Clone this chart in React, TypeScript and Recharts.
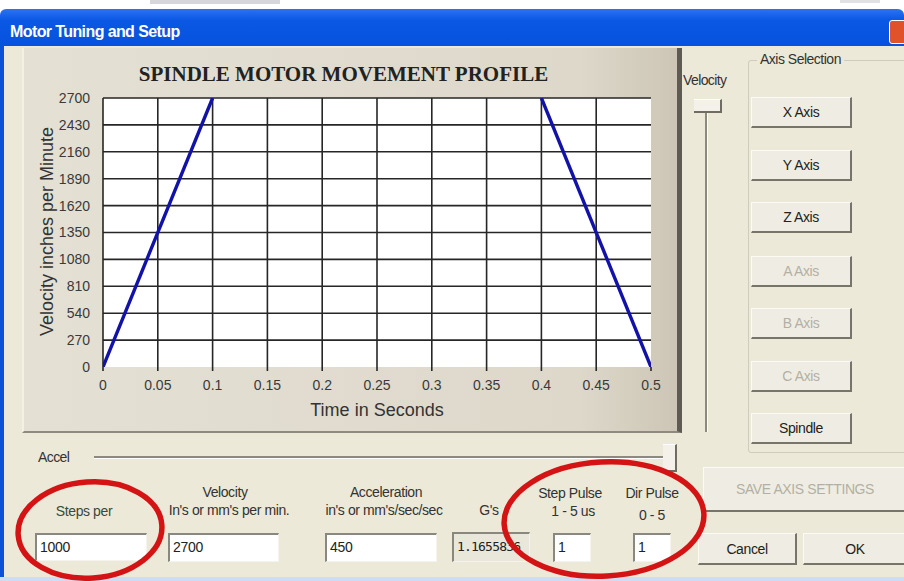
import React from "react";
import { CartesianGrid, Label, Line, LineChart, XAxis, YAxis } from "recharts";

// chart values
const TIME_TICKS = [0, 0.05, 0.1, 0.15, 0.2, 0.25, 0.3, 0.35, 0.4, 0.45, 0.5];
const VELOCITY_TICKS = [0, 270, 540, 810, 1080, 1350, 1620, 1890, 2160, 2430, 2700];
const ACCEL_TIME = [0, 0.1];
const ACCEL_VELOCITY = [0, 2700];
const DECEL_TIME = [0.4, 0.5];
const DECEL_VELOCITY = [2700, 0];

// dialog texts
const AXIS_BUTTONS = ["X Axis", "Y Axis", "Z Axis", "A Axis", "B Axis", "C Axis", "Spindle"];
const AXIS_ENABLED = [true, true, true, false, false, false, true];

const accelData = ACCEL_TIME.map((t, i) => ({ t, v: ACCEL_VELOCITY[i] }));
const decelData = DECEL_TIME.map((t, i) => ({ t, v: DECEL_VELOCITY[i] }));

const UI_FONT = "'Liberation Sans', Arial, sans-serif";
const BG = "#ece9d8";

const abs = (left: number, top: number, width?: number, height?: number): React.CSSProperties => ({
  position: "absolute",
  left,
  top,
  width,
  height,
});

function Button({ x, y, w, h, text, disabled }: { x: number; y: number; w: number; h: number; text: string; disabled?: boolean }) {
  return (
    <div
      style={{
        ...abs(x, y, w, h),
        boxSizing: "border-box",
        background: "#efede3",
        borderTop: "1px solid #fbfaf5",
        borderLeft: "1px solid #fbfaf5",
        borderRight: "2px solid #77756a",
        borderBottom: "2px solid #77756a",
        display: "flex",
        alignItems: "center",
        justifyContent: "center",
        fontSize: 14,
        letterSpacing: -0.4,
        color: disabled ? "#b3b0a3" : "#222",
      }}
    >
      {text}
    </div>
  );
}

function Field({ x, y, w, h, text, grey }: { x: number; y: number; w: number; h: number; text: string; grey?: boolean }) {
  return (
    <div
      style={{
        ...abs(x, y, w, h),
        boxSizing: "border-box",
        background: grey ? "#e9e6da" : "#fff",
        borderTop: "2px solid #8a887e",
        borderLeft: "2px solid #8a887e",
        borderRight: "1px solid #f4f3ee",
        borderBottom: "1px solid #f4f3ee",
        fontSize: grey ? 13 : 14,
        color: "#222",
        paddingLeft: 3,
        lineHeight: `${h - 4}px`,
        overflow: "hidden",
        whiteSpace: "nowrap",
        fontFamily: grey ? "'DejaVu Sans Mono', monospace" : UI_FONT,
        letterSpacing: grey ? -0.8 : -0.3,
      }}
    >
      {text}
    </div>
  );
}

function Caption({ cx, y, text, color = "#333" }: { cx: number; y: number; text: string; color?: string }) {
  return (
    <div style={{ ...abs(cx - 90, y, 180), textAlign: "center", fontSize: 14, letterSpacing: -0.4, color, whiteSpace: "nowrap" }}>
      {text}
    </div>
  );
}

function ProfileChart() {
  return (
    <LineChart width={655} height={384} margin={{ top: 50, right: 26, bottom: 15, left: 0 }}>
      <CartesianGrid
        fill="#fff"
        stroke="#262626"
        strokeWidth={1.6}
        horizontalValues={VELOCITY_TICKS.slice(1)}
        verticalValues={TIME_TICKS.slice(0, -1)}
      />
      <XAxis
        type="number"
        dataKey="t"
        domain={[0, 0.5]}
        ticks={TIME_TICKS}
        allowDataOverflow
        axisLine={false}
        tickLine={{ stroke: "#262626", strokeWidth: 1.6 }}
        tickSize={4}
        tickMargin={9}
        height={50}
        tick={{ fontSize: 14, fill: "#3a3a3a", fontFamily: UI_FONT }}
      >
        <Label value="Time in Seconds" position="insideBottom" offset={1} style={{ fontSize: 18, fill: "#333", fontFamily: UI_FONT }} />
      </XAxis>
      <YAxis
        type="number"
        dataKey="v"
        domain={[0, 2700]}
        ticks={VELOCITY_TICKS}
        allowDataOverflow
        axisLine={false}
        tickLine={false}
        tickMargin={7}
        width={81}
        tick={{ fontSize: 14, fill: "#3a3a3a", fontFamily: UI_FONT }}
      >
        <Label
          content={({ viewBox }: any) => (
            <text
              x={viewBox.x + 25}
              y={viewBox.y + viewBox.height / 2 - 1}
              transform={`rotate(-90, ${viewBox.x + 25}, ${viewBox.y + viewBox.height / 2 - 1})`}
              textAnchor="middle"
              dominantBaseline="central"
              style={{ fontSize: 18, fill: "#333", fontFamily: UI_FONT }}
            >
              Velocity inches per Minute
            </text>
          )}
        />
      </YAxis>
      <Line data={accelData} dataKey="v" stroke="#1212a8" strokeWidth={3.4} dot={false} isAnimationActive={false} />
      <Line data={decelData} dataKey="v" stroke="#1212a8" strokeWidth={3.4} dot={false} isAnimationActive={false} />
    </LineChart>
  );
}

export default function App() {
  return (
    <div style={{ position: "fixed", left: 0, top: 0, width: 904, height: 581, overflow: "hidden", background: "#fff", fontFamily: UI_FONT }}>
      {/* window behind */}
      <div style={{ ...abs(150, 0, 130, 4), background: "#9a9aa6", opacity: 0.4 }} />
      <div style={{ ...abs(840, 0, 40, 3), background: "#9a9aa6", opacity: 0.3 }} />

      {/* title bar */}
      <div style={{ ...abs(0, 9, 904, 37), borderRadius: "6px 6px 0 0", background: "linear-gradient(#2b74ef, #0a58e4 30%, #0652df)" }} />
      <div style={{ ...abs(10, 23, 400), color: "#fff", fontWeight: "bold", fontSize: 16, letterSpacing: -0.6 }}>Motor Tuning and Setup</div>
      <div style={{ ...abs(889, 20, 24, 24), boxSizing: "border-box", background: "#e0522a", border: "1px solid #fff", borderRadius: 3 }} />

      {/* dialog body */}
      <div style={{ ...abs(0, 46, 904, 535), background: BG }} />
      <div style={{ ...abs(0, 46, 4, 535), background: "#0c52d6" }} />
      <div style={{ ...abs(0, 577, 904, 4), background: "#cfdcf3" }} />

      {/* chart panel */}
      <div
        style={{
          ...abs(22, 48, 660, 385),
          boxSizing: "border-box",
          background: "linear-gradient(90deg, #e4e0d4, #ddd8ca 85%, #cdc6b6)",
          borderLeft: "2px solid #f2f0e8",
          borderRight: "5px solid #5f5b52",
          borderBottom: "2px solid #8e8a80",
        }}
      />
      <div
        style={{
          ...abs(22, 62, 655),
          textAlign: "center",
          fontFamily: "'Liberation Serif', 'Times New Roman', serif",
          fontWeight: "bold",
          fontSize: 21,
          color: "#222",
          paddingRight: 12,
          boxSizing: "border-box",
        }}
      >
        SPINDLE MOTOR MOVEMENT PROFILE
      </div>
      <div style={abs(22, 48)}>
        <ProfileChart />
      </div>

      {/* velocity slider */}
      <div style={{ ...abs(683, 72), fontSize: 14, letterSpacing: -0.6, color: "#333" }}>Velocity</div>
      <div style={{ ...abs(705, 112, 2, 320), background: "#8d897e", borderRight: "1px solid #fff" }} />
      <div
        style={{
          ...abs(694, 99, 28, 14),
          boxSizing: "border-box",
          background: "#f3f1e9",
          borderTop: "1px solid #fff",
          borderRight: "2px solid #6f6c62",
          borderBottom: "2px solid #6f6c62",
        }}
      />

      {/* axis selection */}
      <div style={{ ...abs(748, 60, 170, 393), boxSizing: "border-box", border: "1px solid #cfcbbd", borderRadius: 3 }} />
      <div style={{ ...abs(757, 51), background: BG, padding: "0 3px", fontSize: 14, letterSpacing: -0.5, color: "#333" }}>Axis Selection</div>
      {AXIS_BUTTONS.map((label, i) => (
        <Button key={label} x={751} y={[97, 150, 202, 256, 308, 361, 413][i]} w={101} h={31} text={label} disabled={!AXIS_ENABLED[i]} />
      ))}

      {/* accel slider */}
      <div style={{ ...abs(38, 449), fontSize: 14, letterSpacing: -0.6, color: "#333" }}>Accel</div>
      <div style={{ ...abs(94, 456, 574, 2), background: "#8d897e", borderBottom: "1px solid #fff" }} />
      <div
        style={{
          ...abs(663, 444, 14, 28),
          boxSizing: "border-box",
          background: "#f3f1e9",
          borderTop: "1px solid #fff",
          borderRight: "2px solid #6f6c62",
          borderBottom: "2px solid #6f6c62",
        }}
      />

      {/* field captions */}
      <Caption cx={84} y={503} text="Steps per" color="#3a4a3a" />
      <Caption cx={225} y={484} text="Velocity" />
      <Caption cx={229} y={502} text="In's or mm's per min." />
      <Caption cx={386} y={484} text="Acceleration" />
      <Caption cx={384} y={502} text="in's or mm's/sec/sec" />
      <Caption cx={489} y={502} text="G's" />
      <Caption cx={570} y={485} text="Step Pulse" />
      <Caption cx={573} y={503} text="1 - 5 us" />
      <Caption cx={652} y={485} text="Dir Pulse" />
      <Caption cx={652} y={507} text="0 - 5" />

      {/* fields */}
      <Field x={35} y={533} w={112} h={28} text="1000" />
      <Field x={168} y={533} w={111} h={29} text="2700" />
      <Field x={325} y={533} w={112} h={29} text="450" />
      <Field x={452} y={532} w={78} h={30} text="1.1655836" grey />
      <Field x={553} y={533} w={38} h={29} text="1" />
      <Field x={633} y={533} w={38} h={29} text="1" />

      {/* buttons */}
      <Button x={703} y={467} w={205} h={45} text="SAVE AXIS SETTINGS" disabled />
      <Button x={698} y={533} w={99} h={32} text="Cancel" />
      <Button x={803} y={533} w={105} h={32} text="OK" />

      {/* red annotation circles */}
      <svg style={{ ...abs(0, 0, 904, 581), pointerEvents: "none" }} width={904} height={581}>
        <ellipse cx={90} cy={530} rx={72} ry={48} fill="none" stroke="#d41414" strokeWidth={5.5} transform="rotate(-4 90 530)" />
        <ellipse cx={604} cy={519} rx={100} ry={57} fill="none" stroke="#d41414" strokeWidth={5.5} transform="rotate(-3 604 519)" />
      </svg>
    </div>
  );
}
